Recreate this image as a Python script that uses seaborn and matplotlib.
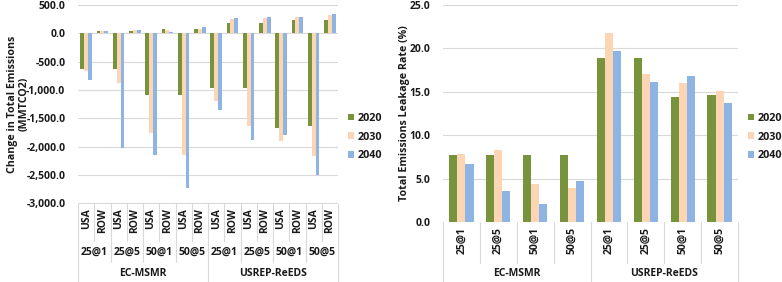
import numpy as np
import pandas as pd
import matplotlib
matplotlib.use("Agg")
import matplotlib.pyplot as plt
from matplotlib import transforms
from matplotlib.patches import Patch
from matplotlib.ticker import FuncFormatter
import seaborn as sns

# ---------------- data ----------------
models = ["EC-MSMR", "USREP-ReEDS"]
scenarios = ["25@1", "25@5", "50@1", "50@5"]
regions = ["USA", "ROW"]
years = ["2020", "2030", "2040"]

# Left: change in total emissions (MMTCO2), order: model -> scenario -> region
chg_2020 = [-620, 40, -620, 40, -1090, 80, -1090, 75,
            -970, 175, -970, 175, -1670, 240, -1640, 240]
chg_2030 = [-660, 40, -880, 60, -1750, 60, -2150, 75,
            -1190, 250, -1630, 270, -1900, 295, -2160, 320]
chg_2040 = [-825, 50, -2020, 60, -2150, 30, -2725, 120,
            -1350, 262, -1880, 297, -1790, 297, -2495, 338]

# Right: total emissions leakage rate (%), order: model -> scenario
leak_2020 = [7.7, 7.7, 7.7, 7.7, 18.9, 18.95, 14.4, 14.6]
leak_2030 = [7.85, 8.3, 4.4, 3.95, 21.8, 17.0, 16.0, 15.1]
leak_2040 = [6.7, 3.6, 2.1, 4.7, 19.7, 16.15, 16.8, 13.7]

colors = ["#77933C", "#FCD5B4", "#8EB4E3"]

# ---------------- frames ----------------
left_cats = [f"{m}|{s}|{r}" for m in models for s in scenarios for r in regions]
right_cats = [f"{m}|{s}" for m in models for s in scenarios]

dfl = pd.DataFrame({
    "cat": left_cats * 3,
    "year": sum([[y] * len(left_cats) for y in years], []),
    "val": chg_2020 + chg_2030 + chg_2040,
})
dfr = pd.DataFrame({
    "cat": right_cats * 3,
    "year": sum([[y] * len(right_cats) for y in years], []),
    "val": leak_2020 + leak_2030 + leak_2040,
})

sns.set_theme(style="white")
plt.rcParams["font.family"] = ["Open Sans", "DejaVu Sans"]
plt.rcParams["font.weight"] = "bold"

W, H = 782, 282
fig = plt.figure(figsize=(W / 100, H / 100), dpi=100)


def fx(px):
    return px / W


def fy(py):
    return 1 - py / H


FS = 7.5
grid_c = "#D9D9D9"
sep_c = "#D9D9D9"
txt_c = "#1a1a1a"

# ---------------- left axes ----------------
axL = fig.add_axes([fx(78), fy(203.5), fx(338) - fx(78), fy(5) - fy(203.5)])
sns.barplot(data=dfl, x="cat", y="val", hue="year", order=left_cats,
            hue_order=years, palette=colors, saturation=1, width=0.72,
            linewidth=0, ax=axL, legend=False)
axL.set_ylim(-3000, 500)
axL.set_xlim(-0.5, len(left_cats) - 0.5)
axL.set_yticks(np.arange(-3000, 501, 500))
axL.yaxis.set_major_formatter(FuncFormatter(lambda v, p: f"{v:,.1f}"))
axL.tick_params(axis="y", labelsize=FS, pad=9, length=0, labelcolor=txt_c)
for t in axL.get_yticklabels():
    t.set_fontweight("bold")
axL.set_xticks([])
axL.set_xlabel("")
axL.set_ylabel("")
for s in axL.spines.values():
    s.set_visible(False)
axL.grid(axis="y", color=grid_c, linewidth=0.8)
axL.set_axisbelow(True)
fig.text(fx(18.5), fy(104), "Change in Total Emissions\n(MMTCO2)", rotation=90,
         ha="center", va="center", fontsize=FS + 0.2, fontweight="bold",
         linespacing=1.0, color=txt_c)

trL = transforms.blended_transform_factory(axL.transData, fig.transFigure)
top = fy(204)
n = len(left_cats)
for b in range(n + 1):
    x = b - 0.5
    if b % 8 == 0:
        bot = fy(282)
    elif b % 2 == 0:
        bot = fy(262)
    else:
        bot = fy(241)
    axL.plot([x, x], [top, bot], color=sep_c, linewidth=0.8,
             transform=trL, clip_on=False)
for i, c in enumerate(left_cats):
    m, s, r = c.split("|")
    axL.text(i, fy(208), r, rotation=90, ha="center", va="top",
             fontsize=FS, fontweight="bold", transform=trL, color=txt_c)
for j in range(len(models) * len(scenarios)):
    axL.text(2 * j + 0.5, fy(252.5), scenarios[j % 4], ha="center", va="center",
             fontsize=FS, fontweight="bold", transform=trL, color=txt_c)
for k, m in enumerate(models):
    axL.text(8 * k + 3.5, fy(273.5), m, ha="center", va="center",
             fontsize=FS, fontweight="bold", transform=trL, color=txt_c)

handles = [Patch(facecolor=c, edgecolor="none") for c in colors]
legkw = dict(loc="upper left", frameon=False, handlelength=0.55, handleheight=0.55,
             handletextpad=0.35, labelspacing=0.7, borderpad=0, borderaxespad=0,
             prop={"weight": "bold", "size": FS + 0.3}, labelcolor=txt_c)
fig.legend(handles, years, bbox_to_anchor=(fx(348), fy(113)), **legkw)

# ---------------- right axes ----------------
axR = fig.add_axes([fx(443), fy(222), fx(738) - fx(443), fy(5) - fy(222)])
sns.barplot(data=dfr, x="cat", y="val", hue="year", order=right_cats,
            hue_order=years, palette=colors, saturation=1, width=0.66,
            linewidth=0, ax=axR, legend=False)
axR.set_ylim(0, 25)
axR.set_xlim(-0.5, len(right_cats) - 0.5)
axR.set_yticks(np.arange(0, 25.1, 5))
axR.yaxis.set_major_formatter(FuncFormatter(lambda v, p: f"{v:.1f}"))
axR.tick_params(axis="y", labelsize=FS, pad=9, length=0, labelcolor=txt_c)
for t in axR.get_yticklabels():
    t.set_fontweight("bold")
axR.set_xticks([])
axR.set_xlabel("")
axR.set_ylabel("")
for s in axR.spines.values():
    s.set_visible(False)
axR.grid(axis="y", color=grid_c, linewidth=0.8)
axR.set_axisbelow(True)
fig.text(fx(405), fy(113), "Total Emissions Leakage Rate (%)", rotation=90,
         ha="center", va="center", fontsize=FS + 0.2, fontweight="bold", color=txt_c)

trR = transforms.blended_transform_factory(axR.transData, fig.transFigure)
topR = fy(222)
nr = len(right_cats)
for b in range(nr + 1):
    x = b - 0.5
    bot = fy(282) if b % 4 == 0 else fy(263)
    axR.plot([x, x], [topR, bot], color=sep_c, linewidth=0.8,
             transform=trR, clip_on=False)
for i, c in enumerate(right_cats):
    m, s = c.split("|")
    axR.text(i, fy(227), s, rotation=90, ha="center", va="top",
             fontsize=FS, fontweight="bold", transform=trR, color=txt_c)
for k, m in enumerate(models):
    axR.text(4 * k + 1.5, fy(273.5), m, ha="center", va="center",
             fontsize=FS, fontweight="bold", transform=trR, color=txt_c)

fig.legend(handles, years, bbox_to_anchor=(fx(748), fy(113)), **legkw)

fig.savefig("out.png", dpi=100)
